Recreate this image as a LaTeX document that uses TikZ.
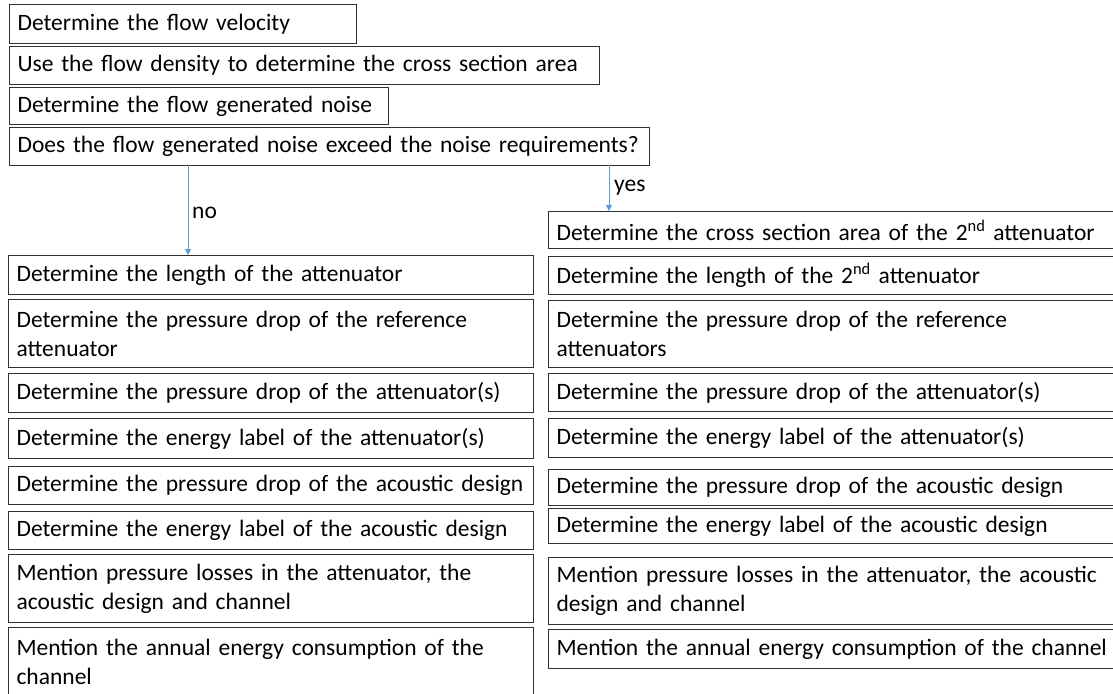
\documentclass[tikz,border=0pt]{standalone}
\usepackage{fontspec}
\setmainfont{Carlito}
\usepackage{xcolor}
\usepackage{tikz}
\usetikzlibrary{arrows.meta, positioning}
\definecolor{flowblue}{HTML}{5B9BD5}
\definecolor{boxline}{HTML}{303030}
\tikzset{
  stepbox/.style={draw=boxline, line width=1.1pt, anchor=north west, align=left,
    inner xsep=8pt, inner ysep=0pt, font=\fontsize{23.5}{29}\selectfont},
  choice/.style={-{Triangle[length=6pt,width=6pt]}, draw=flowblue, line width=0.8pt},
  answer/.style={anchor=west, inner sep=0pt, font=\fontsize{23.5}{29}\selectfont}
}

\begin{document}
\begin{tikzpicture}[x=1pt, y=-1pt]
\clip (0,0) rectangle (1113,693);
% Common steps
\foreach \n/\ya/\yb/\w/\txt in {1/4/43/347/{Determine the flow velocity},
    2/46/84/590/{Use the flow density to determine the cross section area},
    3/87/124/379/{Determine the flow generated noise},
    4/127/165/640/{Does the flow generated noise exceed the noise requirements?}} {
  \node[stepbox, minimum width=\w, text width=\w-16, minimum height=\yb-\ya] (t\n) at (9,\ya) {\txt};
}

% No branch
\foreach \n/\ya/\yb/\txt in {1/255/294/{Determine the length of the attenuator},
    2/299/367/{Determine the pressure drop of the reference\\ attenuator},
    3/373/412/{Determine the pressure drop of the attenuator(s)},
    4/418/458/{Determine the energy label of the attenuator(s)},
    5/466/504/{Determine the pressure drop of the acoustic design},
    6/511/549/{Determine the energy label of the acoustic design},
    7/554/622/{Mention pressure losses in the attenuator, the\\ acoustic design and channel},
    8/627/695/{Mention the annual energy consumption of the\\ channel}} {
  \node[stepbox, minimum width=525, text width=509, minimum height=\yb-\ya] (l\n) at (8,\ya) {\txt};
}

% Yes branch
\foreach \n/\ya/\yb/\txt in {1/211/248/{Determine the cross section area of the 2\textsuperscript{nd} attenuator},
    2/256/294/{Determine the length of the 2\textsuperscript{nd} attenuator},
    3/300/367/{Determine the pressure drop of the reference\\ attenuators},
    4/373/411/{Determine the pressure drop of the attenuator(s)},
    5/418/457/{Determine the energy label of the attenuator(s)},
    6/469/505/{Determine the pressure drop of the acoustic design},
    7/508/543/{Determine the energy label of the acoustic design},
    8/557/624/{Mention pressure losses in the attenuator, the acoustic\\ design and channel},
    9/629/668/{Mention the annual energy consumption of the channel}} {
  \node[stepbox, minimum width=600, text width=584, minimum height=\yb-\ya] (r\n) at (548,\ya) {\txt};
}

\coordinate (nofork) at (188,165);
\coordinate (yesfork) at (609,165);
\draw[choice] (nofork) -- (nofork |- l1.north);
\draw[choice] (yesfork) -- (yesfork |- r1.north);
\node[answer] (nolabel) at (192,213) {no};
\node[answer] (yeslabel) at (614,188) {yes};
\end{tikzpicture}
\end{document}
